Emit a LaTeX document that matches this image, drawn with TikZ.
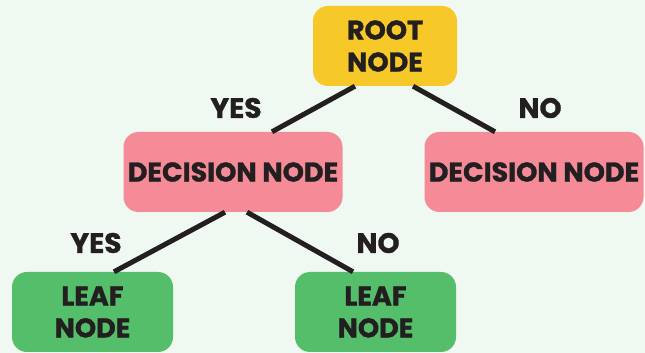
\documentclass[tikz,border=0pt]{standalone}
\usepackage{fontspec}
\setmainfont{Poppins}[BoldFeatures={FakeBold=1.2}]
\usetikzlibrary{calc}
\definecolor{bgcol}{HTML}{EFF8F1}
\definecolor{rootcol}{HTML}{F6C928}
\definecolor{deccol}{HTML}{F48B97}
\definecolor{leafcol}{HTML}{55BE6B}
\definecolor{inkcol}{HTML}{231F20}
\tikzset{
  box/.style={rounded corners=15pt, inner sep=0pt, minimum height=80pt,
    align=center, text=inkcol, font=\bfseries\fontsize{27}{32}\selectfont},
  rootbox/.style={box, fill=rootcol, minimum width=144pt},
  decbox/.style={box, fill=deccol, minimum width=219pt},
  leafbox/.style={box, fill=leafcol, minimum width=161pt},
  edge/.style={draw=inkcol, line width=5pt},
  answer/.style={text=inkcol, font=\bfseries\fontsize{28}{32}\selectfont}
}
\begin{document}
\begin{tikzpicture}[x=1pt,y=1pt]
  \fill[bgcol] (0,0) rectangle (645,353);
  \useasboundingbox (0,0) rectangle (645,353);

  \node[rootbox] (root) at (385,307) {ROOT\\NODE};
  \node[decbox]  (decl) at (233,181) {DECISION NODE};
  \node[decbox]  (decr) at (534,181) {DECISION NODE};
  \node[leafbox] (leafl) at (92.5,41) {LEAF\\NODE};
  \node[leafbox] (leafr) at (375.5,41) {LEAF\\NODE};

  \draw[edge] ($(root.south)+(-30,0)$) -- ($(decl.north)+(39,0)$);
  \draw[edge] ($(root.south)+(28,0)$) -- ($(decr.north)+(-39,0)$);
  \draw[edge] ($(decl.south)+(-8,0)$) -- ($(leafl.north)+(21.5,0)$);
  \draw[edge] ($(decl.south)+(14,0)$) -- ($(leafr.north)+(-22.5,0)$);

  \node[answer] (yes1) at (236,245) {YES};
  \node[answer] (no1)  at (540,245) {NO};
  \node[answer] (yes2) at (96,110) {YES};
  \node[answer] (no2)  at (378,110) {NO};
\end{tikzpicture}
\end{document}
